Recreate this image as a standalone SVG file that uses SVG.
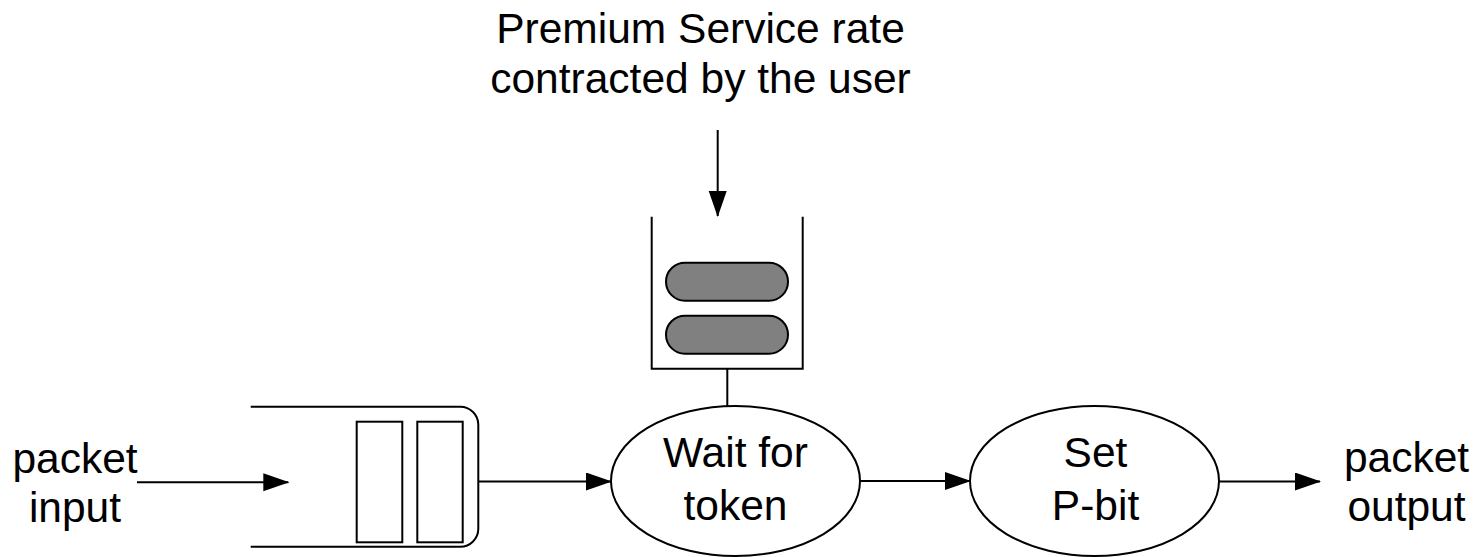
<svg xmlns="http://www.w3.org/2000/svg" width="1479" height="557" viewBox="0 0 1479 557">
<defs>
<marker id="arr" markerUnits="userSpaceOnUse" markerWidth="27" markerHeight="19" refX="25" refY="9" orient="auto">
<path d="M0,0 L26,9 L0,18 z" fill="#000"/>
</marker>
<style>
.ln{fill:none;stroke:#000;stroke-width:2}
.nd{fill:#fff;stroke:#000;stroke-width:2}
.tok{fill:#808080;stroke:#000;stroke-width:2}
.t{font-family:"Liberation Sans",Arial,sans-serif;font-size:42.5px;fill:#000;text-anchor:middle}
</style>
</defs>
<rect width="1479" height="557" fill="#fff"/>
<g id="label-top">
<text class="t" x="700.5" y="43">Premium Service rate</text>
<text class="t" x="700.5" y="93">contracted by the user</text>
</g>
<g id="label-input">
<text class="t" x="75" y="473">packet</text>
<text class="t" x="75" y="522">input</text>
</g>
<g id="label-output">
<text class="t" x="1406.5" y="472">packet</text>
<text class="t" x="1406.5" y="521">output</text>
</g>
<g id="bucket">
<path class="ln" d="M651.7,216.7 V368.7 H802.7 V216.7"/>
<rect class="tok" x="666" y="262.7" width="122" height="38" rx="19" ry="19"/>
<rect class="tok" x="666" y="315.7" width="122" height="38" rx="19" ry="19"/>
</g>
<g id="queue">
<path class="ln" d="M250.7,406.7 H460.3 A18,18 0 0 1 478.3,424.7 V528.7 A18,18 0 0 1 460.3,546.7 H250.7"/>
<rect class="nd" x="356.7" y="421.7" width="45.6" height="120.6"/>
<rect class="nd" x="417.3" y="421.7" width="45.4" height="120.6"/>
</g>
<g id="wait">
<ellipse class="nd" cx="735.5" cy="481" rx="124.5" ry="75"/>
<text class="t" x="735.5" y="467">Wait for</text>
<text class="t" x="735.5" y="520">token</text>
</g>
<g id="setp">
<ellipse class="nd" cx="1094.5" cy="481" rx="124.5" ry="75"/>
<text class="t" x="1095.5" y="467">Set</text>
<text class="t" x="1095.5" y="520">P-bit</text>
</g>
<g id="connectors">
<line class="ln" x1="717.7" y1="130" x2="717.7" y2="216" marker-end="url(#arr)"/>
<line class="ln" x1="727.3" y1="368.7" x2="727.3" y2="406"/>
<line class="ln" x1="137" y1="482.3" x2="288.3" y2="482.3" marker-end="url(#arr)"/>
<line class="ln" x1="478.3" y1="481.5" x2="611" y2="481.5" marker-end="url(#arr)"/>
<line class="ln" x1="860" y1="481" x2="970" y2="481" marker-end="url(#arr)"/>
<line class="ln" x1="1219" y1="481.5" x2="1320" y2="481.5" marker-end="url(#arr)"/>
</g>
</svg>
